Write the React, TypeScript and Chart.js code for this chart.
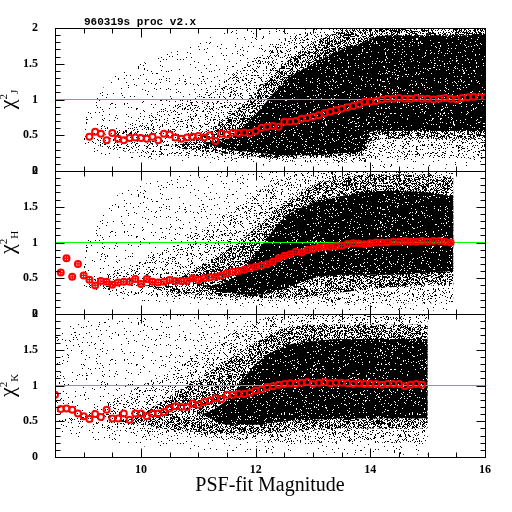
import React, { useEffect, useRef } from "react"
import Chart from "chart.js/auto"

// magnitude bins of the running chi^2 medians (red markers)
const magBins = [
  8.5, 8.6, 8.7, 8.8, 8.9, 9.0, 9.1, 9.2, 9.3, 9.4, 9.5, 9.6, 9.7, 9.8, 9.9,
  10.0, 10.1, 10.2, 10.3, 10.4, 10.5, 10.6, 10.7, 10.8, 10.9,
  11.0, 11.1, 11.2, 11.3, 11.4, 11.5, 11.6, 11.7, 11.8, 11.9,
  12.0, 12.1, 12.2, 12.3, 12.4, 12.5, 12.6, 12.7, 12.8, 12.9,
  13.0, 13.1, 13.2, 13.3, 13.4, 13.5, 13.6, 13.7, 13.8, 13.9,
  14.0, 14.1, 14.2, 14.3, 14.4, 14.5, 14.6, 14.7, 14.8, 14.9,
  15.0, 15.1, 15.2, 15.3, 15.4, 15.5, 15.6, 15.7, 15.8, 15.9, 16.0,
]

const chiJ = [
  null, null, null, null, null, null,
  0.48, 0.55, 0.52, 0.43, 0.53, 0.45, 0.43, 0.46, 0.47,
  0.46, 0.45, 0.48, 0.43, 0.52, 0.51, 0.47, 0.45, 0.47, 0.48,
  0.49, 0.47, 0.5, 0.42, 0.52, 0.51, 0.535, 0.53, 0.54, 0.53,
  0.56, 0.6, 0.62, 0.63, 0.62, 0.69, 0.69, 0.7, 0.73, 0.74,
  0.76, 0.78, 0.81, 0.83, 0.85, 0.87, 0.89, 0.91, 0.93, 0.97,
  0.97, 0.98, 1.0, 1.01, 1.01, 1.02, 1.01, 1.01, 1.02, 1.01,
  1.01, 1.0, 1.01, 1.02, 1.01, 1.0, 1.02, 1.03, 1.04, 1.03, 1.03,
]

const chiH = [
  null, 0.58, 0.78, 0.52, 0.7, 0.54, 0.48, 0.4, 0.46, 0.45, 0.41, 0.44, 0.45, 0.45, 0.49,
  0.42, 0.49, 0.45, 0.44, 0.45, 0.475, 0.46, 0.46, 0.46, 0.5,
  0.475, 0.5, 0.51, 0.52, 0.54, 0.57, 0.59, 0.6, 0.62, 0.64,
  0.66, 0.68, 0.695, 0.73, 0.78, 0.815, 0.835, 0.87, 0.86, 0.895,
  0.91, 0.93, 0.94, 0.94, 0.947, 0.955, 0.98, 0.99, 0.985, 0.975,
  0.99, 1.0, 1.0, 1.0, 1.01, 1.01, 1.02, 1.01, 1.01, 1.02,
  1.01, 1.02, 1.02, 1.01, 1.0, null, null, null, null, null, null,
]

const chiK = [
  0.87, 0.67, 0.68, 0.66, 0.61, 0.57, 0.53, 0.6, 0.56, 0.66, 0.54, 0.54, 0.61, 0.52, 0.61,
  0.61, 0.57, 0.61, 0.61, 0.63, 0.68, 0.71, 0.7, 0.7, 0.75,
  0.73, 0.77, 0.79, 0.82, 0.81, 0.87, 0.87, 0.88, 0.88, 0.9,
  0.93, 0.94, 0.98, 0.99, 1.01, 1.02, 1.03, 1.02, 1.04, 1.05,
  1.02, 1.04, 1.05, 1.03, 1.04, 1.04, 1.03, 1.02, 1.03, 1.02,
  1.02, 1.02, 1.01, 1.02, 1.02, 1.02, 0.99, 1.01, 1.02, 1.01,
  null, null, null, null, null, null, null, null, null, null, null,
]

// outline of the star cloud, one lo/hi pair per density level (sparse, medium, heavy, solid)
const jGrid = [9.0, 9.5, 10, 10.5, 11, 11.5, 12, 12.5, 13, 13.5, 13.9, 14.0, 14.5, 15, 15.5, 16]
const jSparseLo = [0.3, 0.2, 0.17, 0.15, 0.13, 0.1, 0.08, 0.07, 0.06, 0.05, 0.05, 0.04, 0.03, 0.03, 0.03, 0.03]
const jSparseHi = [0.8, 1.3, 1.5, 1.65, 1.8, 1.95, 2, 2, 2, 2, 2, 2, 2, 2, 2, 2]
const jMediumLo = [0.42, 0.3, 0.25, 0.22, 0.2, 0.18, 0.16, 0.14, 0.12, 0.12, 0.12, 0.18, 0.18, 0.18, 0.18, 0.18]
const jMediumHi = [0.42, 0.55, 0.75, 0.9, 1.05, 1.3, 1.6, 1.85, 2, 2, 2, 2, 2, 2, 2, 2]
const jHeavyLo = [0.4, 0.4, 0.4, 0.35, 0.27, 0.24, 0.2, 0.18, 0.18, 0.2, 0.22, 0.42, 0.45, 0.45, 0.45, 0.45]
const jHeavyHi = [0.4, 0.4, 0.4, 0.35, 0.5, 0.75, 1.1, 1.5, 1.8, 1.95, 2, 2, 2, 2, 2, 2]
const jSolidLo = [0.4, 0.4, 0.4, 0.4, 0.4, 0.3, 0.26, 0.22, 0.22, 0.25, 0.3, 0.55, 0.56, 0.56, 0.56, 0.56]
const jSolidHi = [0.4, 0.4, 0.4, 0.4, 0.4, 0.45, 0.8, 1.25, 1.5, 1.7, 1.8, 1.85, 1.9, 1.9, 1.9, 1.9]

const hGrid = [9.0, 9.5, 10, 10.5, 11, 11.5, 12, 12.5, 13, 13.5, 14, 14.5, 15, 15.45]
const hSparseLo = [0.3, 0.2, 0.18, 0.16, 0.14, 0.12, 0.1, 0.08, 0.07, 0.06, 0.05, 0.05, 0.05, 0.05]
const hSparseHi = [1.0, 1.6, 1.8, 1.9, 2, 2, 2, 2, 2, 2, 2, 2, 2, 2]
const hMediumLo = [0.4, 0.3, 0.27, 0.24, 0.22, 0.2, 0.18, 0.16, 0.15, 0.15, 0.15, 0.15, 0.15, 0.15]
const hMediumHi = [0.4, 0.6, 0.75, 0.95, 1.15, 1.4, 1.7, 1.9, 2, 2, 2, 2, 2, 2]
const hHeavyLo = [0.4, 0.4, 0.4, 0.3, 0.27, 0.24, 0.22, 0.22, 0.25, 0.3, 0.35, 0.38, 0.4, 0.4]
const hHeavyHi = [0.4, 0.4, 0.4, 0.45, 0.65, 0.9, 1.2, 1.55, 1.8, 1.9, 1.95, 1.95, 1.95, 1.9]
const hSolidLo = [0.4, 0.4, 0.4, 0.4, 0.4, 0.3, 0.27, 0.35, 0.5, 0.55, 0.55, 0.55, 0.58, 0.6]
const hSolidHi = [0.4, 0.4, 0.4, 0.4, 0.4, 0.45, 0.85, 1.35, 1.55, 1.65, 1.72, 1.72, 1.7, 1.65]

const kGrid = [8.5, 9.0, 9.5, 10, 10.5, 11, 11.5, 12, 12.5, 13, 13.5, 14, 14.5, 15.0]
const kSparseLo = [0.3, 0.25, 0.2, 0.15, 0.12, 0.1, 0.08, 0.06, 0.05, 0.04, 0.03, 0.03, 0.03, 0.03]
const kSparseHi = [1.8, 1.9, 1.95, 2, 2, 2, 2, 2, 2, 2, 2, 2, 2, 2]
const kMediumLo = [0.5, 0.45, 0.38, 0.33, 0.3, 0.28, 0.25, 0.22, 0.2, 0.2, 0.2, 0.2, 0.2, 0.2]
const kMediumHi = [0.5, 0.6, 0.8, 1.0, 1.2, 1.45, 1.7, 1.9, 2, 2, 2, 2, 2, 2]
const kHeavyLo = [0.5, 0.5, 0.5, 0.45, 0.38, 0.35, 0.33, 0.33, 0.35, 0.38, 0.4, 0.4, 0.4, 0.4]
const kHeavyHi = [0.5, 0.5, 0.5, 0.6, 0.85, 1.1, 1.35, 1.6, 1.8, 1.85, 1.85, 1.85, 1.85, 1.85]
const kSolidLo = [0.6, 0.6, 0.6, 0.6, 0.6, 0.6, 0.45, 0.45, 0.5, 0.52, 0.54, 0.54, 0.54, 0.54]
const kSolidHi = [0.6, 0.6, 0.6, 0.6, 0.6, 0.6, 0.8, 1.3, 1.55, 1.62, 1.65, 1.65, 1.65, 1.65]

const xTickValues = [10, 12, 14, 16]
const yTickValues = [0, 0.5, 1, 1.5, 2]
const refLevel = 1
const magMin = 8.5
const magMax = 16

const levelDensity = [0.035, 0.15, 0.5, 0.93]
const levelOrder = [40, 30, 20, 10]

const panels = [
  { axis: "yJ", band: "J", chi: chiJ, cross: false, grid: jGrid,
    levels: [[jSparseLo, jSparseHi], [jMediumLo, jMediumHi], [jHeavyLo, jHeavyHi], [jSolidLo, jSolidHi]] },
  { axis: "yH", band: "H", chi: chiH, cross: true, grid: hGrid,
    levels: [[hSparseLo, hSparseHi], [hMediumLo, hMediumHi], [hHeavyLo, hHeavyHi], [hSolidLo, hSolidHi]] },
  { axis: "yK", band: "K", chi: chiK, cross: false, grid: kGrid,
    levels: [[kSparseLo, kSparseHi], [kMediumLo, kMediumHi], [kHeavyLo, kHeavyHi], [kSolidLo, kSolidHi]] },
]

const pts = (xs: number[], ys: (number | null)[]) => xs.map((x, i) => ({ x, y: ys[i] }))

// fixed speckle texture used to shade the cloud
function speckle(i: number, j: number) {
  let h = Math.imul(i, 374761393) + Math.imul(j, 668265263)
  h = Math.imul(h ^ (h >>> 13), 1274126177)
  h ^= h >>> 16
  return (h >>> 0) / 4294967296
}

function makeDots(ctx: CanvasRenderingContext2D, density: number) {
  const size = 128
  const tile = document.createElement("canvas")
  tile.width = size
  tile.height = size
  const g = tile.getContext("2d")!
  const img = g.createImageData(size, size)
  for (let j = 0; j < size; j++) {
    for (let i = 0; i < size; i++) {
      if (speckle(i, j) < density) {
        const k = (j * size + i) * 4
        img.data[k + 3] = 255
      }
    }
  }
  g.putImageData(img, 0, 0)
  return ctx.createPattern(tile, "repeat")
}

const tickFont = { family: "Liberation Serif", size: 12, weight: "bold" as const }

const panelFrame = {
  id: "panelFrame",
  afterDraw(chart: any) {
    const ctx: CanvasRenderingContext2D = chart.ctx
    const xs = chart.scales.x
    ctx.save()
    ctx.strokeStyle = "#000"
    ctx.lineWidth = 1
    panels.forEach((p) => {
      const ys = chart.scales[p.axis]
      const left = Math.round(xs.left) + 0.5
      const right = Math.round(xs.right) + 0.5
      const top = Math.round(ys.top) + 0.5
      const bottom = Math.round(ys.bottom) + 0.5
      ctx.strokeRect(left, top, right - left, bottom - top)
      ctx.beginPath()
      for (let n = 1; n < 20; n++) {
        const v = n * 0.1
        const py = Math.round(ys.getPixelForValue(v)) + 0.5
        const len = n % 5 === 0 ? 9 : 5
        ctx.moveTo(left, py)
        ctx.lineTo(left + len, py)
        ctx.moveTo(right, py)
        ctx.lineTo(right - len, py)
      }
      for (let n = 1; n < 15; n++) {
        const m = magMin + n * 0.5
        const px = Math.round(xs.getPixelForValue(m)) + 0.5
        const len = m % 2 === 0 ? 9 : 5
        ctx.moveTo(px, top)
        ctx.lineTo(px, top + len)
        ctx.moveTo(px, bottom)
        ctx.lineTo(px, bottom - len)
      }
      ctx.stroke()

      // chi^2 axis label
      ctx.save()
      ctx.fillStyle = "#000"
      ctx.translate(14, (ys.top + ys.bottom) / 2)
      ctx.rotate(-Math.PI / 2)
      ctx.font = '22px "Liberation Serif"'
      const wChi = ctx.measureText("χ").width
      ctx.font = '11px "Liberation Serif"'
      const wTwo = ctx.measureText("2").width
      const wSub = ctx.measureText(p.band).width
      const x0 = -(wChi + wTwo + wSub) / 2
      ctx.font = '22px "Liberation Serif"'
      ctx.fillText("χ", x0, 0)
      ctx.font = '11px "Liberation Serif"'
      ctx.fillText("2", x0 + wChi, -7)
      ctx.fillText(p.band, x0 + wChi + wTwo, 4)
      ctx.restore()
    })
    ctx.fillStyle = "#000"
    ctx.font = 'bold 11px "Liberation Mono"'
    ctx.fillText("960319s proc v2.x", 84, 25)
    ctx.restore()
  },
}

const ChiSquaredPanels = () => {
  const canvasRef = useRef<HTMLCanvasElement | null>(null)

  useEffect(() => {
    const node = canvasRef.current
    const ctx = node?.getContext("2d")
    if (!ctx) return
    const patterns = levelDensity.map((d) => makeDots(ctx, d))
    const clear = "rgba(0,0,0,0)"

    const datasets: any[] = []
    panels.forEach((p) => {
      datasets.push({
        data: pts(magBins, p.chi), yAxisID: p.axis, showLine: false, order: 1,
        pointRadius: 3, pointBorderWidth: 2, pointBorderColor: "#ff0000", pointBackgroundColor: clear,
      })
      if (p.cross) {
        datasets.push({
          data: pts(magBins, p.chi), yAxisID: p.axis, showLine: false, order: 0,
          pointStyle: "cross", pointRadius: 3, pointBorderWidth: 1.3, pointBorderColor: "#ff0000",
        })
      }
      datasets.push({
        data: [{ x: magMin, y: refLevel }, { x: magMax, y: refLevel }], yAxisID: p.axis, order: 5,
        borderColor: "#00ff00", borderWidth: 1, pointRadius: 0, fill: false,
      })
      p.levels.forEach(([lo, hi], L) => {
        datasets.push({
          data: pts(p.grid, hi), yAxisID: p.axis, order: levelOrder[L], fill: "+1",
          backgroundColor: patterns[L], borderColor: clear, borderWidth: 1, pointRadius: 0,
          cubicInterpolationMode: "monotone",
        })
        datasets.push({
          data: pts(p.grid, lo), yAxisID: p.axis, order: levelOrder[L], fill: false,
          borderColor: clear, borderWidth: 1, pointRadius: 0, cubicInterpolationMode: "monotone",
        })
      })
    })

    const yScale = () => ({
      type: "linear" as const,
      position: "left" as const,
      stack: "chi",
      stackWeight: 1,
      min: 0,
      max: 2,
      grid: { display: false },
      border: { display: false },
      afterBuildTicks: (s: any) => {
        s.ticks = yTickValues.map((value) => ({ value }))
      },
      afterFit: (s: any) => {
        s.width = 55
      },
      ticks: { font: tickFont, color: "#000", padding: 9, autoSkip: false, callback: (v: any) => String(v) },
    })

    const chart = new Chart(ctx, {
      type: "line",
      data: { datasets },
      options: {
        animation: false,
        responsive: false,
        events: [],
        layout: { padding: { top: 28, right: 27, left: 0, bottom: 0 } },
        plugins: { legend: { display: false }, tooltip: { enabled: false } },
        scales: {
          x: {
            type: "linear",
            position: "bottom",
            min: magMin,
            max: magMax,
            grid: { display: false },
            border: { display: false },
            afterBuildTicks: (s: any) => {
              s.ticks = xTickValues.map((value) => ({ value }))
            },
            afterFit: (s: any) => {
              s.height = 55
            },
            ticks: { font: tickFont, color: "#000", padding: -2, maxRotation: 0, autoSkip: false },
            title: {
              display: true,
              text: "PSF-fit Magnitude",
              color: "#000",
              font: { family: "Liberation Serif", size: 20 },
              padding: { top: 0, bottom: 14 },
            },
          },
          // stacked scales are laid out bottom-up, so K comes first
          yK: yScale(),
          yH: yScale(),
          yJ: yScale(),
        },
      } as any,
      plugins: [panelFrame],
    })

    return () => {
      chart.destroy()
    }
  }, [])

  return (
    <div style={{ position: "absolute", left: 0, top: 0, width: 512, height: 512, background: "#fff" }}>
      <canvas ref={canvasRef} width={512} height={512} style={{ display: "block" }} />
    </div>
  )
}

export default function App() {
  return <ChiSquaredPanels />
}
